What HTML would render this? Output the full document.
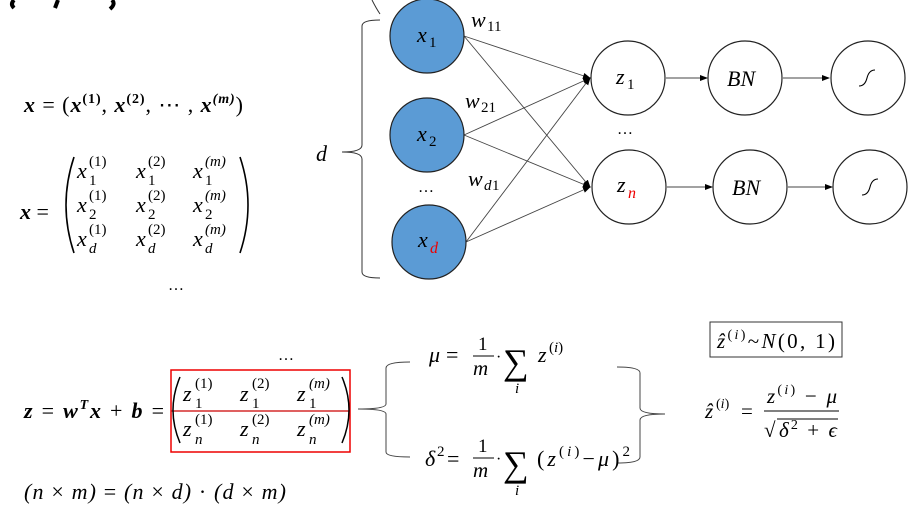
<!DOCTYPE html>
<html><head><meta charset="utf-8"><style>
html,body{margin:0;padding:0;background:#fff;width:911px;height:511px;overflow:hidden}
svg text{font-family:"Liberation Serif","DejaVu Serif",serif;font-style:italic;fill:#000}
.b{font-weight:bold}
.n{font-style:normal}
</style></head><body>
<svg width="911" height="511" viewBox="0 0 911 511" xmlns="http://www.w3.org/2000/svg">
<defs><marker id="ar" markerWidth="8" markerHeight="8" refX="7" refY="4" orient="auto" markerUnits="userSpaceOnUse"><path d="M0,1 L8,4 L0,7z" fill="#000"/></marker></defs>
<path d="M14,0 Q10,4 14,8" stroke="#000" stroke-width="4" fill="none"/>
<path d="M58,0 L55,8" stroke="#000" stroke-width="4"/>
<path d="M112,0 Q116,4 110,9" stroke="#000" stroke-width="4" fill="none"/>
<path d="M372,0 Q376,8 380,14" stroke="#333" fill="none"/>
<path d="M380,20 Q362,20 362,26 L362,145 Q362,152 342,152 Q362,152 362,159 L362,272 Q362,278 380,278" stroke="#333" fill="none"/>
<text x="316" y="161" font-size="22">d</text>
<g stroke="#444" stroke-width="0.9" marker-end="url(#ar)">
<line x1="464" y1="36" x2="590" y2="78"/>
<line x1="464" y1="36" x2="590" y2="187"/>
<line x1="464" y1="135" x2="590" y2="78"/>
<line x1="464" y1="135" x2="590" y2="187"/>
<line x1="466" y1="242" x2="590" y2="78"/>
<line x1="466" y1="242" x2="590" y2="187"/>
<line x1="666" y1="78" x2="707" y2="78"/>
<line x1="783" y1="78" x2="829" y2="78"/>
<line x1="667" y1="187" x2="712" y2="187"/>
<line x1="788" y1="187" x2="832" y2="187"/>
</g>
<g stroke="#222" stroke-width="1.2">
<circle cx="427" cy="36" r="37" fill="#5b9bd5"/>
<circle cx="427" cy="135" r="37" fill="#5b9bd5"/>
<circle cx="429" cy="242" r="37" fill="#5b9bd5"/>
<circle cx="628" cy="78" r="37" fill="#fff"/>
<circle cx="629" cy="187" r="37" fill="#fff"/>
<circle cx="745" cy="78" r="37" fill="#fff"/>
<circle cx="750" cy="187" r="37" fill="#fff"/>
<circle cx="868" cy="78" r="37" fill="#fff"/>
<circle cx="870" cy="187" r="37" fill="#fff"/>
</g>
<g stroke="#000" fill="none" stroke-width="1.1">
<path d="M859,86 Q865,86 867,78 Q869,70 875,70"/>
<path d="M862,195 Q868,195 870,187 Q872,179 878,179"/>
</g>
<g font-size="22">
<text x="417" y="42">x</text><text x="429" y="47" font-size="15" class="n">1</text>
<text x="417" y="141">x</text><text x="429" y="146" font-size="15" class="n">2</text>
<text x="418" y="247">x</text><text x="430" y="253" font-size="16" style="fill:#e00">d</text>
<text x="616" y="84">z</text><text x="627" y="89" font-size="15" class="n">1</text>
<text x="617" y="192">z</text><text x="628" y="198" font-size="16" style="fill:#e00">n</text>
<text x="727" y="86">BN</text>
<text x="732" y="195">BN</text>
<text x="471" y="27">w</text><text x="487" y="31" font-size="15" class="n">11</text>
<text x="465" y="108">w</text><text x="481" y="112" font-size="15" class="n">21</text>
<text x="468" y="186">w</text><text x="484" y="190" font-size="15">d</text><text x="492" y="190" font-size="15" class="n">1</text>
</g>
<text x="418" y="192" font-size="16" class="n">…</text>
<text x="617" y="134" font-size="16" class="n">…</text>
<text x="24" y="112" font-size="22" textLength="219" lengthAdjust="spacing"><tspan class="b">x</tspan><tspan class="n"> = (</tspan><tspan class="b">x</tspan><tspan class="b n" font-size="14" dy="-9">(1)</tspan><tspan class="n" dy="9">, </tspan><tspan class="b">x</tspan><tspan class="b n" font-size="14" dy="-9">(2)</tspan><tspan class="n" dy="9">, ⋯ , </tspan><tspan class="b">x</tspan><tspan class="b" font-size="14" dy="-9">(m)</tspan><tspan class="n" dy="9">)</tspan></text>
<text x="20" y="219" font-size="22"><tspan class="b">x</tspan><tspan class="n"> =</tspan></text>
<path d="M74,157 Q58,205 74,253" stroke="#000" stroke-width="1.6" fill="none"/>
<path d="M240,157 Q256,205 240,253" stroke="#000" stroke-width="1.6" fill="none"/>
<g font-size="22">
<text x="77" y="178">x</text><text x="136" y="178">x</text><text x="193" y="178">x</text>
<text x="77" y="212">x</text><text x="136" y="212">x</text><text x="193" y="212">x</text>
<text x="77" y="246">x</text><text x="136" y="246">x</text><text x="193" y="246">x</text>
</g>
<g font-size="15" class="n">
<text x="89" y="166" class="n">(1)</text><text x="148" y="166" class="n">(2)</text><text x="205" y="166">(<tspan font-style="italic">m</tspan>)</text>
<text x="89" y="200" class="n">(1)</text><text x="148" y="200" class="n">(2)</text><text x="205" y="200">(<tspan font-style="italic">m</tspan>)</text>
<text x="89" y="234" class="n">(1)</text><text x="148" y="234" class="n">(2)</text><text x="205" y="234">(<tspan font-style="italic">m</tspan>)</text>
<text x="89" y="185" class="n">1</text><text x="148" y="185" class="n">1</text><text x="205" y="185" class="n">1</text>
<text x="89" y="219" class="n">2</text><text x="148" y="219" class="n">2</text><text x="205" y="219" class="n">2</text>
<text x="89" y="253">d</text><text x="148" y="253">d</text><text x="205" y="253">d</text>
</g>
<text x="168" y="290" font-size="16" class="n">…</text>
<text x="278" y="360" font-size="16" class="n">…</text>
<text x="24" y="418" font-size="22" textLength="140" lengthAdjust="spacing"><tspan class="b">z</tspan><tspan class="n"> = </tspan><tspan class="b">w</tspan><tspan class="b" font-size="14" dy="-9">T</tspan><tspan class="b" dy="9">x</tspan><tspan class="n"> + </tspan><tspan class="b">b</tspan><tspan class="n"> =</tspan></text>
<rect x="171" y="370" width="179" height="82" fill="none" stroke="#e00" stroke-width="1.5"/>
<line x1="171" y1="411" x2="350" y2="411" stroke="#c00" stroke-width="1.3"/>
<path d="M180,377 Q166,410 180,443" stroke="#000" stroke-width="1.5" fill="none"/>
<path d="M342,377 Q356,410 342,443" stroke="#000" stroke-width="1.5" fill="none"/>
<g font-size="22">
<text x="183" y="401">z</text><text x="240" y="401">z</text><text x="297" y="401">z</text>
<text x="183" y="436">z</text><text x="240" y="436">z</text><text x="297" y="436">z</text>
</g>
<g font-size="15" class="n">
<text x="195" y="388" class="n">(1)</text><text x="252" y="388" class="n">(2)</text><text x="309" y="388">(<tspan font-style="italic">m</tspan>)</text>
<text x="195" y="424" class="n">(1)</text><text x="252" y="424" class="n">(2)</text><text x="309" y="424">(<tspan font-style="italic">m</tspan>)</text>
<text x="195" y="408" class="n">1</text><text x="252" y="408" class="n">1</text><text x="309" y="408" class="n">1</text>
<text x="195" y="444">n</text><text x="252" y="444">n</text><text x="309" y="444">n</text>
</g>
<text x="24" y="499" font-size="22" textLength="262" lengthAdjust="spacing">(n <tspan class="n">×</tspan> m) <tspan class="n">=</tspan> (n <tspan class="n">×</tspan> d) <tspan class="n">·</tspan> (d <tspan class="n">×</tspan> m)</text>
<path d="M410,362 Q386,362 386,368 L386,404 Q386,409 358,409 Q386,409 386,414 L386,452 Q386,457 410,457" stroke="#444" fill="none"/>
<path d="M617,367 Q640,367 640,373 L640,408 Q640,414 665,414 Q640,414 640,420 L640,457 Q640,463 617,463" stroke="#444" fill="none"/>
<text x="429" y="362" font-size="22">μ</text><text x="446" y="362" font-size="22" class="n">=</text>
<text x="478" y="350" font-size="19" class="n">1</text>
<line x1="473" y1="356" x2="494" y2="356" stroke="#000"/>
<text x="473" y="375" font-size="21">m</text>
<text x="496" y="362" font-size="16" class="n">·</text>
<text x="503" y="374" font-size="36" class="n">∑</text>
<text x="515" y="393" font-size="15">i</text>
<text x="538" y="362" font-size="22">z</text><text x="549" y="352" font-size="15" class="n">(<tspan font-style="italic">i</tspan>)</text>
<text x="425" y="466" font-size="22">δ</text><text x="437" y="456" font-size="15" class="n">2</text><text x="447" y="466" font-size="22" class="n">=</text>
<text x="478" y="452" font-size="19" class="n">1</text>
<line x1="473" y1="458" x2="494" y2="458" stroke="#000"/>
<text x="473" y="477" font-size="21">m</text>
<text x="496" y="464" font-size="16" class="n">·</text>
<text x="503" y="476" font-size="36" class="n">∑</text>
<text x="515" y="495" font-size="15">i</text>
<text x="537" y="466" font-size="22" textLength="93" lengthAdjust="spacing"><tspan class="n">(</tspan>z<tspan class="n" font-size="15" dy="-10">(</tspan><tspan font-size="15">i</tspan><tspan class="n" font-size="15">)</tspan><tspan class="n" dy="10">−</tspan>μ<tspan class="n">)</tspan><tspan class="n" font-size="15" dy="-10">2</tspan></text>
<rect x="710" y="322" width="132" height="35" fill="none" stroke="#333"/>
<text x="717" y="348" font-size="21" textLength="118" lengthAdjust="spacing">ẑ<tspan class="n" font-size="14" dy="-9">(</tspan><tspan font-size="14">i</tspan><tspan class="n" font-size="14">)</tspan><tspan class="n" dy="9">~</tspan>N<tspan class="n">(0, 1)</tspan></text>
<text x="705" y="418" font-size="21">ẑ</text><text x="716" y="408" font-size="14" class="n">(<tspan font-style="italic">i</tspan>)</text><text x="741" y="418" font-size="21" class="n">=</text>
<text x="767" y="403" font-size="21" textLength="70" lengthAdjust="spacing">z<tspan class="n" font-size="14" dy="-9">(</tspan><tspan font-size="14">i</tspan><tspan class="n" font-size="14">)</tspan><tspan class="n" dy="9"> − </tspan>μ</text>
<line x1="764" y1="411" x2="839" y2="411" stroke="#000"/>
<text x="764" y="437" font-size="21" class="n">√</text>
<line x1="777" y1="419" x2="838" y2="419" stroke="#000" stroke-width="0.9"/>
<text x="779" y="437" font-size="21" textLength="58" lengthAdjust="spacing">δ<tspan class="n" font-size="14" dy="-8">2</tspan><tspan class="n" dy="8"> + </tspan>ϵ</text>
</svg>
</body></html>
